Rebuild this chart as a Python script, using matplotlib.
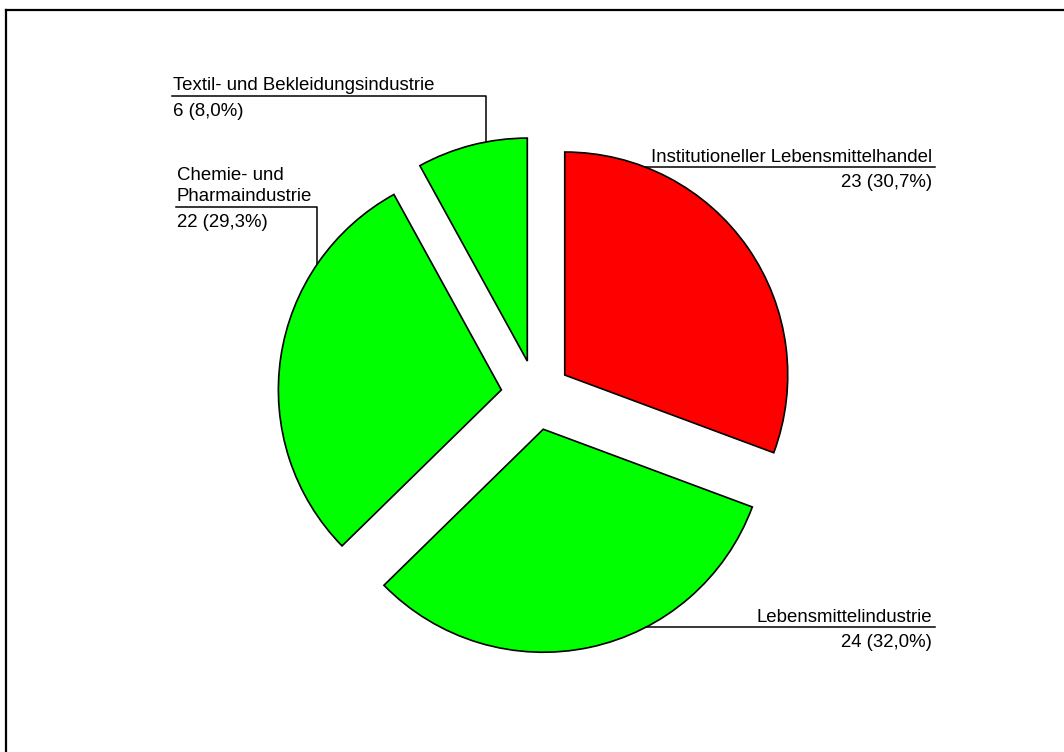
import numpy as np
import matplotlib
matplotlib.use('Agg')
import matplotlib.pyplot as plt
from matplotlib.lines import Line2D

# Branchen, Anzahl der Unternehmen
branchen = ['Institutioneller Lebensmittelhandel', 'Lebensmittelindustrie',
            'Chemie- und\nPharmaindustrie', 'Textil- und Bekleidungsindustrie']
anzahl = [23, 24, 22, 6]
farben = ['#ff0000', '#00ff00', '#00ff00', '#00ff00']

W, H = 1064, 752
plt.rcParams['font.family'] = ['Liberation Sans', 'DejaVu Sans']
FS = 13.4

fig = plt.figure(figsize=(W / 100, H / 100), dpi=100)
ax = fig.add_axes([0, 0, 1, 1])

# axes in pixel units, y pointing down; so counterclock=True draws clockwise on screen
# (explode is an offset in data units here, not a fraction)
radius = 223
wedges, _ = ax.pie(anzahl, colors=farben, startangle=-90, counterclock=True,
                   center=(536, 395), radius=radius, explode=[35] * len(anzahl),
                   wedgeprops=dict(edgecolor='black', linewidth=1.2))
ax.set_xlim(0, W)
ax.set_ylim(H, 0)
ax.set_axis_off()

total = sum(anzahl)
werte = [f'{n} ({n / total * 100:.1f}%)'.replace('.', ',') for n in anzahl]


def arc_x(w, y):
    cx, cy = w.center
    return cx + np.sqrt(w.r ** 2 - (y - cy) ** 2)


def arc_y(w, x):
    cx, cy = w.center
    return cy - np.sqrt(w.r ** 2 - (x - cx) ** 2)


lw = 1.1
# right-hand labels: horizontal leader running into the wedge
for i, (y_line, x_right) in zip([0, 1], [(167, 935), (627, 935)]):
    x0 = arc_x(wedges[i], y_line)
    ax.plot([x0, x_right], [y_line, y_line], color='black', lw=lw)
    ax.text(x_right - 3, y_line - 5, branchen[i], ha='right', va='baseline', fontsize=FS)
    ax.text(x_right - 3, y_line + 20, werte[i], ha='right', va='baseline', fontsize=FS)

# left-hand labels: horizontal underline, then vertical leader down to the wedge
for i, (y_line, x_left, x_corner) in zip([2, 3], [(207, 176, 317), (96, 172, 486)]):
    y1 = arc_y(wedges[i], x_corner)
    ax.plot([x_left, x_corner, x_corner], [y_line, y_line, y1], color='black', lw=lw)
    zeilen = branchen[i].split('\n')
    for k, z in enumerate(reversed(zeilen)):
        ax.text(x_left + 1, y_line - 6 - 21 * k, z, ha='left', va='baseline', fontsize=FS)
    ax.text(x_left + 1, y_line + 20, werte[i], ha='left', va='baseline', fontsize=FS)

# chart frame (top and left edges visible)
fig.add_artist(Line2D([6 / W, 6 / W], [0, 1 - 10 / H], color='black', lw=1.6,
                      transform=fig.transFigure, solid_capstyle='projecting'))
fig.add_artist(Line2D([6 / W, 1], [1 - 10 / H, 1 - 10 / H], color='black', lw=1.6,
                      transform=fig.transFigure, solid_capstyle='projecting'))

fig.savefig('out.png', dpi=100, facecolor='white')
